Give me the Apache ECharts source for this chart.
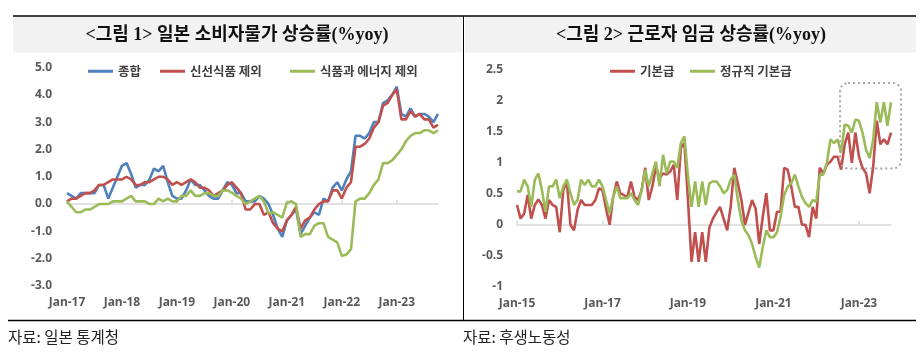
<!DOCTYPE html>
<html>
<head>
<meta charset="utf-8">
<script src="https://cdn.jsdelivr.net/npm/echarts@6/dist/echarts.min.js"></script>
<style>
html,body{margin:0;padding:0;background:#fff;}
#c{width:921px;height:363px;}
</style>
</head>
<body>
<div id="c"></div>
<script>
// ---------- Data ----------
const MON = ['Jan','Feb','Mar','Apr','May','Jun','Jul','Aug','Sep','Oct','Nov','Dec'];
function monthLabels(startYear, count) {
  const out = [];
  for (let i = 0; i < count; i++) {
    const y = startYear + Math.floor(i / 12);
    out.push(MON[i % 12] + '-' + String(y).slice(2));
  }
  return out;
}
// Left chart: Jan-17 .. Oct-23
const cpiMonths = monthLabels(2017, 82);
const cpiHeadline = [
  0.4,0.3,0.2,0.4,0.4,0.4,0.4,0.7,0.7,0.2,0.6,1.0,
  1.4,1.5,1.1,0.6,0.7,0.7,0.9,1.3,1.2,1.4,0.8,0.3,
  0.2,0.2,0.5,0.9,0.7,0.7,0.5,0.3,0.2,0.2,0.5,0.8,
  0.7,0.4,0.4,0.1,0.1,0.1,0.3,0.2,0.0,-0.4,-0.9,-1.2,
  -0.6,-0.4,-0.2,-1.1,-0.8,-0.5,-0.3,-0.4,0.2,0.1,0.6,0.8,
  0.5,0.9,1.2,2.5,2.5,2.4,2.6,3.0,3.0,3.7,3.8,4.0,
  4.3,3.3,3.2,3.5,3.2,3.3,3.3,3.2,3.0,3.3
];
const cpiExFresh = [
  0.1,0.2,0.2,0.3,0.4,0.4,0.5,0.7,0.7,0.8,0.9,0.9,
  0.9,1.0,0.9,0.7,0.7,0.8,0.8,0.9,1.0,1.0,0.9,0.7,
  0.8,0.7,0.8,0.9,0.8,0.6,0.6,0.5,0.3,0.4,0.5,0.7,
  0.8,0.6,0.4,-0.2,-0.2,0.0,0.0,-0.4,-0.3,-0.7,-0.9,-1.0,
  -0.6,-0.4,-0.1,-0.9,-0.6,-0.5,-0.2,0.0,0.1,0.1,0.5,0.5,
  0.2,0.6,0.8,2.1,2.1,2.2,2.4,2.8,3.0,3.6,3.7,4.0,
  4.2,3.1,3.1,3.4,3.2,3.3,3.1,3.1,2.8,2.9
];
const cpiExFoodEnergy = [
  0.1,-0.1,-0.3,-0.3,-0.2,-0.2,-0.1,0.0,0.0,0.0,0.1,0.1,
  0.1,0.2,0.3,0.1,0.1,0.1,0.0,0.0,0.2,0.1,0.2,0.1,
  0.1,0.3,0.3,0.5,0.3,0.3,0.4,0.4,0.3,0.3,0.5,0.5,
  0.42,0.3,0.2,0.0,0.1,0.2,0.3,0.1,-0.35,-0.3,-0.4,-0.5,
  0.05,0.1,0.0,-1.2,-1.1,-1.1,-0.8,-0.7,-0.7,-1.2,-1.3,-1.4,
  -1.9,-1.85,-1.65,0.1,0.2,0.2,0.4,0.7,0.9,1.5,1.5,1.6,
  1.8,2.0,2.3,2.5,2.6,2.6,2.7,2.7,2.6,2.7
];
const cpiTicks = [-3,-2,-1,0,1,2,3,4,5];

// Right chart: Jan-15 .. Oct-23
const wageMonths = monthLabels(2015, 106);
const wageBase = [
  0.32,0.10,0.18,0.48,0.10,0.32,0.41,0.32,0.10,0.40,0.32,0.29,
  -0.12,0.56,0.70,0.00,-0.09,0.24,0.40,0.32,0.32,0.32,0.40,0.59,
  0.56,0.26,0.00,0.45,0.70,0.51,0.48,0.45,0.70,0.45,0.40,0.56,
  0.92,0.40,0.62,0.94,0.75,0.83,0.81,0.86,0.97,0.40,1.24,1.32,
  0.40,-0.60,-0.12,-0.60,-0.12,-0.60,-0.05,0.10,0.20,0.29,0.10,-0.09,
  0.30,0.92,0.67,0.40,0.00,0.20,0.40,0.26,-0.31,0.13,0.51,-0.09,
  -0.09,0.21,0.21,0.92,0.89,0.62,0.29,0.29,0.00,0.00,-0.20,0.29,
  0.10,0.92,0.83,0.97,1.02,1.10,1.10,0.89,1.30,1.49,1.00,1.49,
  1.10,0.92,0.83,0.51,0.94,1.68,1.30,1.38,1.30,1.49
];
const wageRegular = [
  0.54,0.54,0.73,0.62,0.29,0.73,0.83,0.56,0.21,0.62,0.62,0.73,
  0.43,0.62,0.73,0.51,0.32,0.40,0.73,0.64,0.73,0.62,0.62,0.73,
  0.62,0.40,0.18,0.45,0.62,0.43,0.43,0.43,0.51,0.40,0.32,0.56,
  0.89,0.62,0.83,1.02,0.62,1.13,0.83,1.02,1.02,0.92,1.32,1.43,
  0.78,0.29,0.70,0.29,0.70,0.32,0.67,0.70,0.70,0.62,0.51,0.56,
  0.73,0.81,0.40,0.07,-0.09,-0.17,-0.31,-0.52,-0.69,-0.36,-0.09,-0.20,
  -0.20,-0.12,0.13,0.48,0.62,0.67,0.81,0.62,0.45,0.35,0.29,0.40,
  0.37,0.81,0.81,1.00,1.38,1.32,1.38,1.16,1.62,1.60,1.49,1.70,
  1.68,1.49,1.21,1.08,1.38,1.98,1.65,1.98,1.60,1.98
];
const wageTicks = [-1,-0.5,0,0.5,1,1.5,2,2.5];

// ---------- Styles ----------
const BLUE = '#4f81bd', RED = '#c0504d', GREEN = '#9bbb59';
const LABEL = {color:'#595959', fontSize:12, fontWeight:'bold', fontFamily:'"Noto Sans", "Noto Sans CJK KR", sans-serif'};
const LEG_TEXT = {color:'#404040', fontSize:12.5, fontWeight:'bold', fontFamily:'"Noto Sans CJK KR", sans-serif'};

function legendFor(name, left) {
  return {data:[name], left:left, top:65, icon:'rect', itemWidth:25, itemHeight:3,
          itemGap:0, padding:0, textStyle:LEG_TEXT, selectedMode:false};
}
function lineSeries(name, data, color, xi, yi) {
  return {name, type:'line', data, xAxisIndex:xi, yAxisIndex:yi, showSymbol:false, symbol:'none',
          lineStyle:{color, width:2.6}, itemStyle:{color}, animation:false, z:3};
}

const chart = echarts.init(document.getElementById('c'), null, {renderer:'canvas'});
const option = {
  animation:false,
  backgroundColor:'#ffffff',
  grid:[
    {left:67, top:67.5, width:371, height:218.5},
    {left:517, top:70, width:374, height:216.7}
  ],
  legend:[
    legendFor('종합', 88),
    legendFor('신선식품 제외', 160),
    legendFor('식품과 에너지 제외', 290),
    legendFor('기본급', 610),
    legendFor('정규직 기본급', 690)
  ],
  xAxis:[
    {gridIndex:0, type:'category', data:cpiMonths, boundaryGap:false,
     axisLine:{show:false, onZero:false}, axisTick:{show:false}, splitLine:{show:false},
     axisLabel:{...LABEL, margin:11, interval:(i)=>i%12===0}},
    {gridIndex:0, type:'category', data:cpiMonths, boundaryGap:false,
     axisLine:{show:true, onZero:true, lineStyle:{color:'#d9d9d9', width:1.5}},
     axisTick:{show:true, length:4, interval:(i)=>i%12===0, lineStyle:{color:'#d9d9d9', width:1.5}},
     axisLabel:{show:false}, splitLine:{show:false}},
    {gridIndex:1, type:'category', data:wageMonths, boundaryGap:false,
     axisLine:{show:false, onZero:false}, axisTick:{show:false}, splitLine:{show:false},
     axisLabel:{...LABEL, margin:11, interval:(i)=>i%24===0}},
    {gridIndex:1, type:'category', data:wageMonths, boundaryGap:false,
     axisLine:{show:true, onZero:true, lineStyle:{color:'#d9d9d9', width:1.5}},
     axisTick:{show:true, length:4, interval:(i)=>i%24===0, lineStyle:{color:'#d9d9d9', width:1.5}},
     axisLabel:{show:false}, splitLine:{show:false}}
  ],
  yAxis:[
    {gridIndex:0, type:'value', min:cpiTicks[0], max:cpiTicks[cpiTicks.length-1], interval:1,
     axisLine:{show:false}, axisTick:{show:false}, splitLine:{show:false},
     axisLabel:{...LABEL, margin:15, formatter:(v)=>v.toFixed(1)}},
    {gridIndex:1, type:'value', min:wageTicks[0], max:wageTicks[wageTicks.length-1], interval:0.5,
     axisLine:{show:false}, axisTick:{show:false}, splitLine:{show:false},
     axisLabel:{...LABEL, margin:14, formatter:(v)=>String(v)}}
  ],
  series:[
    lineSeries('종합', cpiHeadline, BLUE, 0, 0),
    lineSeries('신선식품 제외', cpiExFresh, RED, 0, 0),
    lineSeries('식품과 에너지 제외', cpiExFoodEnergy, GREEN, 0, 0),
    lineSeries('기본급', wageBase, RED, 2, 1),
    lineSeries('정규직 기본급', wageRegular, GREEN, 2, 1)
  ]
};
chart.setOption(option);

// ---------- Decorations (frame, titles, sources, highlight box) ----------
const TITLE_FONT = 'bold 18px "Liberation Serif", "Noto Sans CJK KR", serif';
const SRC_FONT = '15.5px "Noto Sans CJK KR", sans-serif';
const x0 = chart.convertToPixel({xAxisIndex:2}, 0);
const x1 = chart.convertToPixel({xAxisIndex:2}, 1);
const step = x1 - x0;
const boxL = x0 + 90.7 * step, boxR = x0 + 107.8 * step;
const boxT = chart.convertToPixel({yAxisIndex:1}, 2.29);
const boxB = chart.convertToPixel({yAxisIndex:1}, 0.91);

chart.setOption({
  graphic:[
    {type:'rect', shape:{x:13, y:16.5, width:449, height:36}, style:{fill:'#f2f2f2'}, silent:true, z:-1},
    {type:'rect', shape:{x:465, y:16.5, width:451, height:36}, style:{fill:'#f2f2f2'}, silent:true, z:-1},
    {type:'line', shape:{x1:13, y1:16, x2:916, y2:16}, style:{stroke:'#000', lineWidth:1.5}, silent:true},
    {type:'line', shape:{x1:463.5, y1:16, x2:463.5, y2:320}, style:{stroke:'#000', lineWidth:1}, silent:true},
    {type:'line', shape:{x1:8, y1:320.5, x2:916, y2:320.5}, style:{stroke:'#000', lineWidth:1.5}, silent:true},
    {type:'text', x:237, y:35, style:{text:'<그림 1> 일본 소비자물가 상승률(%yoy)', font:TITLE_FONT, fill:'#111', textAlign:'center', textVerticalAlign:'middle'}, silent:true},
    {type:'text', x:691, y:35, style:{text:'<그림 2> 근로자 임금 상승률(%yoy)', font:TITLE_FONT, fill:'#111', textAlign:'center', textVerticalAlign:'middle'}, silent:true},
    {type:'text', x:8, y:337, style:{text:'자료: 일본 통계청', font:SRC_FONT, fill:'#222', textAlign:'left', textVerticalAlign:'middle'}, silent:true},
    {type:'text', x:463, y:337, style:{text:'자료: 후생노동성', font:SRC_FONT, fill:'#222', textAlign:'left', textVerticalAlign:'middle'}, silent:true},
    {type:'rect', shape:{x:boxL, y:boxT, width:boxR-boxL, height:boxB-boxT, r:8},
     style:{fill:'none', stroke:'#a6a6a6', lineWidth:2, lineDash:[2,3]}, silent:true, z:5}
  ]
});
</script>
</body>
</html>
